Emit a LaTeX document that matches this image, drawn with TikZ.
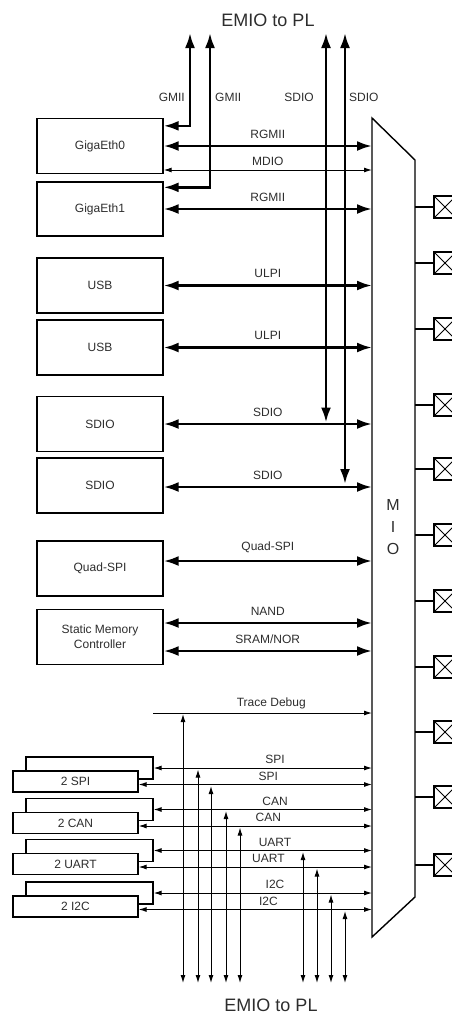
\documentclass[tikz,border=0pt]{standalone}
\usepackage{fontspec}
\setmainfont{Liberation Sans}
\usepackage{tikz}
\usepackage{xcolor}
\usetikzlibrary{arrows.meta, positioning, calc}
\definecolor{cText}{RGB}{45,45,45}
\tikzset{
	blk/.style   ={rectangle, draw=black, line width=1.3pt, minimum width=126pt, minimum height=55pt, inner sep=0pt, align=center, font=\fontsize{12}{14}\selectfont, text=cText},
	sback/.style ={rectangle, draw=black, line width=1.3pt, fill=white, minimum width=127pt, minimum height=22pt, inner sep=0pt},
	sfront/.style={rectangle, draw=black, line width=1.3pt, fill=white, minimum width=125pt, minimum height=21pt, inner sep=0pt, font=\fontsize{12}{14}\selectfont, text=cText},
	lbl/.style   ={font=\fontsize{12}{14}\selectfont, text=cText, inner sep=1pt},
	big/.style   ={font=\fontsize{18}{20}\selectfont, text=cText, inner sep=0pt},
	bus/.style   ={{Latex[length=15pt,width=10pt]}-{Latex[length=15pt,width=10pt]}, line width=2.6pt},
	sig/.style   ={{Latex[length=8pt,width=5pt]}-{Latex[length=8pt,width=5pt]}, line width=1pt},
	sigr/.style  ={-{Latex[length=8pt,width=5pt]}, line width=1pt},
	wire/.style  ={line width=1.2pt},
	pad/.style   ={rectangle, draw=black, line width=1.2pt, minimum size=22pt, inner sep=0pt,
		path picture={\draw[line width=1pt] (path picture bounding box.south west) -- (path picture bounding box.north east)
			(path picture bounding box.north west) -- (path picture bounding box.south east);}},
}
\begin{document}
\begin{tikzpicture}[x=1pt, y=-1pt]
	\useasboundingbox (0,0) rectangle (452,1018);
	% MIO block
	\coordinate (mioTL) at (372,118);
	\coordinate (mioTR) at (415,160);
	\coordinate (mioBR) at (415,897);
	\coordinate (mioBL) at (372,937);
	\draw[line width=1.4pt] (mioTL) -- (mioTR) -- (mioBR) -- (mioBL) -- cycle;
	\node[font=\fontsize{16}{22}\selectfont, text=cText, align=center] (mio) at (393,527) {M\\I\\O};
	% pads
	\foreach \y [count=\i] in {207,263,329,405,469,535,601,667,732,797,865} {
		\node[pad] (pad\i) at (445,\y) {};
		\draw[wire] (pad\i.west) -- (pad\i.west -| mioTR);
	}
	% peripherals
	\node[blk] (geth0) at (100,146) {GigaEth0};
	\node[blk, minimum height=54pt] (geth1) at (100,209) {GigaEth1};
	\node[blk] (usb0) at (100,285.5) {USB};
	\node[blk] (usb1) at (100,347.5) {USB};
	\node[blk] (sdio0) at (100,424) {SDIO};
	\node[blk] (sdio1) at (100,485.5) {SDIO};
	\node[blk] (qspi) at (100,568.5) {Quad-SPI};
	\node[blk, font=\fontsize{12}{15}\selectfont] (smc) at (100,637) {Static Memory\\Controller};
	% MIO links
	\draw[bus] (geth0.east) -- (geth0.east -| mioTL) node[lbl, midway, above=5.5pt] (lRgmii0) {RGMII};
	\draw[sig] ([yshift=-24pt]geth0.east) -- ([yshift=-24pt]geth0.east -| mioTL) node[lbl, midway, above=2.5pt] (lMdio) {MDIO};
	\draw[bus] (geth1.east) -- (geth1.east -| mioTL) node[lbl, midway, above=5.5pt] (lRgmii1) {RGMII};
	\draw[bus] (usb0.east) -- (usb0.east -| mioTL) node[lbl, midway, above=5.5pt] (lUlpi0) {ULPI};
	\draw[bus] (usb1.east) -- (usb1.east -| mioTL) node[lbl, midway, above=5.5pt] (lUlpi1) {ULPI};
	\draw[bus] (sdio0.east) -- (sdio0.east -| mioTL) node[lbl, midway, above=5.5pt] (lSdio0) {SDIO};
	\draw[bus] ([yshift=-1.5pt]sdio1.east) -- ([yshift=-1.5pt]sdio1.east -| mioTL) node[lbl, midway, above=5.5pt] (lSdio1) {SDIO};
	\draw[bus] ([yshift=7.5pt]qspi.east) -- ([yshift=7.5pt]qspi.east -| mioTL) node[lbl, midway, above=5.5pt] (lQspi) {Quad-SPI};
	\draw[bus] ([yshift=14pt]smc.east) -- ([yshift=14pt]smc.east -| mioTL) node[lbl, midway, above=5.5pt] (lNand) {NAND};
	\draw[bus] ([yshift=-14pt]smc.east) -- ([yshift=-14pt]smc.east -| mioTL) node[lbl, midway, above=5.5pt] (lSram) {SRAM/NOR};
	% EMIO at the top
	\node[big] (emioT) at (268,20) {EMIO to PL};
	\coordinate (gmA) at (190,33);
	\coordinate (gmB) at (210,33);
	\coordinate (sdA) at (326,33);
	\coordinate (sdB) at (345,33);
	\draw[bus] ([yshift=-8pt]geth0.north east) -| (gmA);
	\draw[bus] ([yshift=-6pt]geth1.north east) -| (gmB);
	\draw[bus, shorten >=1.5pt] (sdA) -- (sdA |- sdio0.east);
	\draw[bus, shorten >=1.5pt] (sdB) -- (sdB |- sdio1.east);
	\path (gmA) ++(-4,64) node[lbl, anchor=east] (lGmiiA) {GMII};
	\path (gmB) ++(4,64) node[lbl, anchor=west] (lGmiiB) {GMII};
	\path (sdA) ++(-11,64) node[lbl, anchor=east] (lSdA) {SDIO};
	\path (sdB) ++(3,64) node[lbl, anchor=west] (lSdB) {SDIO};
	% trace debug
	\coordinate (trS) at (153,713);
	\coordinate (trT) at (183,983);
	\draw[sigr] (trS) -- (trS -| mioTL) node[lbl, pos=0.54, above=2.5pt] (lTrace) {Trace Debug};
	\draw[sig, shorten <=1pt] (trT |- trS) -- (trT);
	% serial pairs
	\foreach \n/\t/\fy/\xa/\xb in {spi/SPI/781.5/198/211, can/CAN/823/226/240, uart/UART/864/303/317, iic/I2C/906.5/331/345} {
		\node[sback] (\n-b) at (89.5,\fy-13.5) {};
		\node[sfront] (\n-f) at (75.5,\fy) {2 \t};
		\coordinate (\n-ta) at (\xa,983);
		\coordinate (\n-tb) at (\xb,983);
		\draw[sig] (\n-b.east) -- (\n-b.east -| mioTL) node[lbl, pos=0.556, above=2.5pt] (\n-la) {\t};
		\draw[sig] ([yshift=-3pt]\n-f.east) -- ([yshift=-3pt]\n-f.east -| mioTL) node[lbl, pos=0.556, above=2.5pt] (\n-lb) {\t};
		\draw[sig, shorten <=1.5pt] (\n-ta |- \n-b.east) -- (\n-ta);
		\draw[sig, shorten <=1.5pt] ([yshift=-3pt]\n-tb |- \n-f.east) -- (\n-tb);
	}
	\node[big] (emioB) at (271,1005) {EMIO to PL};
\end{tikzpicture}
\end{document}
